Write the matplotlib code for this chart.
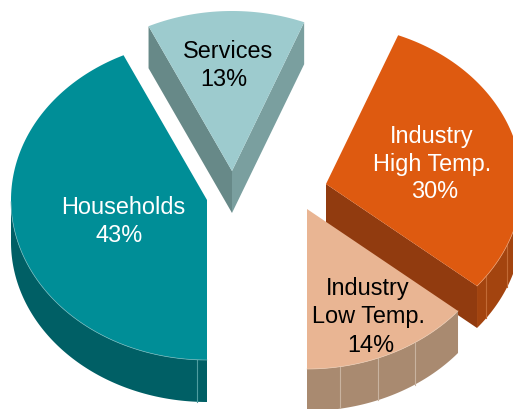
import numpy as np
import matplotlib
matplotlib.use("Agg")
import matplotlib.pyplot as plt
from matplotlib.patches import Polygon

plt.rcParams['font.family'] = ['Liberation Sans', 'DejaVu Sans']

categories = ["Households", "Services", "Industry\nHigh Temp.", "Industry\nLow Temp."]
shares = [43, 13, 30, 14]
share_labels = [f"{v}%" for v in shares]

# layout and style (pixel space)
RX, RY, DEPTH = 196, 160, 42
START_ANGLE = 270
apexes = [(207, 200), (232, 171), (326, 184), (307, 209)]
top_colors = ["#008E97", "#9DCBCE", "#DE5A10", "#E9B593"]
outer_colors = ["#005F65", "#7A9F9F", "#A3440F", "#A98A70"]
cut_start_colors = [None, "#678988", None, None]
cut_end_colors = [None, "#7A9F9F", "#913B0F", None]
facet_offsets = [[-10], [], [160, 181], [33, 71, 108]]
facet_colors = ["#4F9DA0", None, "#C26A35", "#C9B3A0"]
rim_colors = ["#6FB5B9", None, "#E89A6C", "#E9C9B0"]
text_colors = ["white", "black", "white", "black"]
name_xy = [(123, 208), (227.5, 52), (432, 136), (368, 289)]
share_xy = [(119, 236), (224, 80), (435, 192), (371, 345)]
LINE_STEP = 28
draw_order = [1, 2, 3, 0]
FONT_SIZE = 16.9

fig = plt.figure(figsize=(5.13, 4.09), dpi=100)
ax = fig.add_axes([0, 0, 1, 1])
ax.set_xlim(0, 513)
ax.set_ylim(409, 0)
ax.axis("off")


def rim(center, a1, a2, n=120):
    t = np.radians(np.linspace(a1, a2, n))
    return np.column_stack([center[0] + RX * np.cos(t), center[1] - RY * np.sin(t)])


def shifted(pts):
    return pts + np.array([0, DEPTH])


a_hi = START_ANGLE
spans = []
for v in shares:
    a_lo = a_hi - v / sum(shares) * 360
    spans.append((a_hi, a_lo))
    a_hi = a_lo

for i in draw_order:
    a1, a2 = spans[i]
    c = np.array(apexes[i], dtype=float)
    edge = rim(c, a1, a2)
    z = draw_order.index(i)

    # radial cut faces
    if cut_start_colors[i]:
        p = edge[0]
        ax.add_patch(Polygon([c, p, p + [0, DEPTH], c + [0, DEPTH]], closed=True,
                             fc=cut_start_colors[i], ec="none", zorder=1 + z))
    if cut_end_colors[i]:
        p = edge[-1]
        ax.add_patch(Polygon([c, p, p + [0, DEPTH], c + [0, DEPTH]], closed=True,
                             fc=cut_end_colors[i], ec="none", zorder=1 + z))

    # outer wall: only the front half of the rim is visible
    angs = np.linspace(a1, a2, 240)
    front = angs[np.sin(np.radians(angs)) <= 0]
    f = None
    if len(front):
        f = rim(c, front[0], front[-1])
        ax.add_patch(Polygon(np.vstack([f, shifted(f)[::-1]]), closed=True,
                             fc=outer_colors[i], ec="none", zorder=1.5 + z))
        for off in facet_offsets[i]:
            x = c[0] + off
            y = c[1] + RY * np.sqrt(1 - (off / RX) ** 2)
            ax.plot([x, x], [y, y + DEPTH], color=facet_colors[i], lw=0.8,
                    zorder=1.6 + z)

    # top surface
    ax.add_patch(Polygon(np.vstack([c, edge]), closed=True, fc=top_colors[i], ec="none",
                         zorder=1.7 + z))
    if f is not None and rim_colors[i]:
        ax.plot(f[:, 0], f[:, 1], color=rim_colors[i], lw=0.5, zorder=1.8 + z)

    # labels
    nx, ny = name_xy[i]
    for k, line in enumerate(categories[i].split("\n")):
        ax.text(nx, ny + LINE_STEP * k, line, ha="center", va="center",
                color=text_colors[i], fontsize=FONT_SIZE, zorder=10)
    ax.text(share_xy[i][0], share_xy[i][1], share_labels[i], ha="center", va="center",
            color=text_colors[i], fontsize=FONT_SIZE, zorder=10)

fig.savefig("out.png", dpi=100)
